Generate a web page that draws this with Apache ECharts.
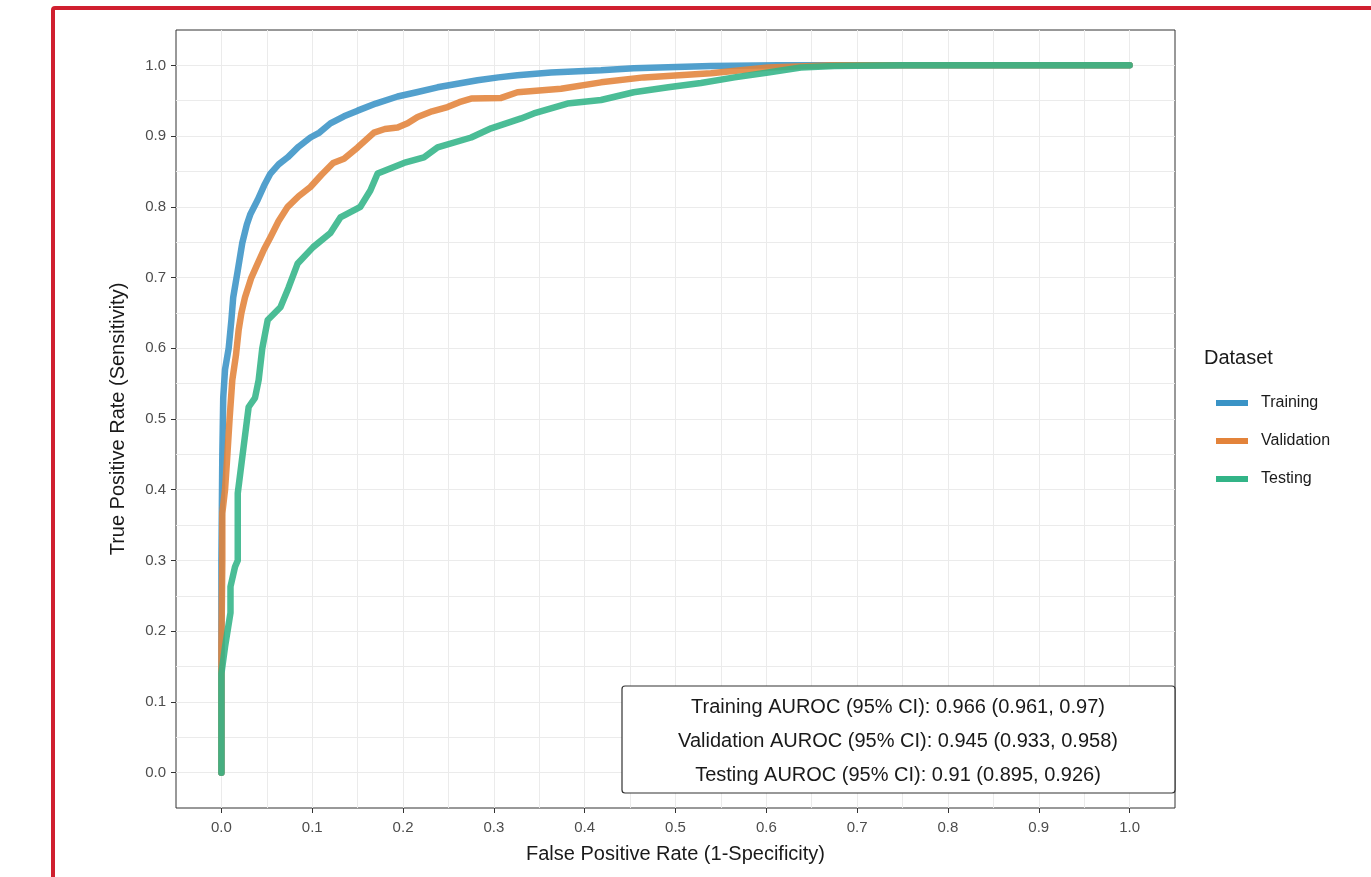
<!DOCTYPE html>
<html>
<head>
<meta charset="utf-8">
<script src="https://cdn.jsdelivr.net/npm/echarts@6/dist/echarts.min.js"></script>
<style>
  html, body { margin: 0; padding: 0; background: #fff; }
  #chart { width: 1371px; height: 877px; }
</style>
</head>
<body>
<div id="chart"></div>
<script>
// ROC points: [false positive rate, true positive rate]
const training = [
  [0, 0], [0, 0.30], [0.001, 0.45], [0.002, 0.53], [0.004, 0.57], [0.008, 0.60], [0.011, 0.64],
  [0.013, 0.672], [0.018, 0.71], [0.023, 0.749], [0.028, 0.775], [0.032, 0.79], [0.04, 0.81],
  [0.047, 0.83], [0.054, 0.847], [0.063, 0.86], [0.073, 0.87], [0.085, 0.885], [0.098, 0.898],
  [0.108, 0.905], [0.12, 0.918], [0.135, 0.928], [0.15, 0.936], [0.17, 0.946], [0.194, 0.956],
  [0.215, 0.962], [0.238, 0.969], [0.26, 0.974], [0.282, 0.979], [0.305, 0.983], [0.326, 0.986],
  [0.363, 0.99], [0.418, 0.993], [0.454, 0.996], [0.539, 0.999], [0.613, 1.0], [1, 1]
]
const validation = [
  [0, 0], [0, 0.14], [0, 0.178], [0.001, 0.30], [0.001, 0.367], [0.004, 0.40], [0.006, 0.438],
  [0.009, 0.50], [0.012, 0.555], [0.016, 0.59], [0.019, 0.626], [0.022, 0.65], [0.026, 0.672],
  [0.033, 0.70], [0.04, 0.72], [0.047, 0.74], [0.054, 0.757], [0.063, 0.78], [0.073, 0.80],
  [0.085, 0.815], [0.098, 0.828], [0.11, 0.845], [0.123, 0.862], [0.135, 0.868], [0.15, 0.884],
  [0.168, 0.905], [0.18, 0.91], [0.194, 0.912], [0.205, 0.918], [0.216, 0.927], [0.232, 0.935],
  [0.249, 0.941], [0.262, 0.948], [0.275, 0.953], [0.308, 0.954], [0.326, 0.962], [0.374, 0.967],
  [0.418, 0.976], [0.465, 0.983], [0.539, 0.989], [0.602, 0.997], [0.675, 1.0], [1, 1]
]
const testing = [
  [0, 0], [0, 0.14], [0.004, 0.178], [0.01, 0.226], [0.01, 0.263], [0.015, 0.291], [0.018, 0.30],
  [0.018, 0.395], [0.023, 0.446], [0.03, 0.517], [0.037, 0.53], [0.041, 0.555], [0.045, 0.60],
  [0.051, 0.64], [0.065, 0.658], [0.074, 0.686], [0.084, 0.72], [0.101, 0.743], [0.12, 0.763],
  [0.131, 0.785], [0.153, 0.80], [0.164, 0.823], [0.172, 0.847], [0.201, 0.862], [0.223, 0.87],
  [0.238, 0.884], [0.275, 0.898], [0.297, 0.911], [0.33, 0.925], [0.344, 0.932], [0.381, 0.946],
  [0.418, 0.951], [0.454, 0.962], [0.492, 0.969], [0.528, 0.975], [0.565, 0.983], [0.602, 0.99],
  [0.638, 0.997], [0.675, 0.999], [0.75, 1.0], [1, 1]
]
const seriesNames = ['Training', 'Validation', 'Testing']
const seriesColors = ['#3a93c6', '#e3833a', '#32b487']
const tickValues = [0, 0.1, 0.2, 0.3, 0.4, 0.5, 0.6, 0.7, 0.8, 0.9, 1.0]
const aurocLines = [
  'Training AUROC (95% CI): 0.966 (0.961, 0.97)',
  'Validation AUROC (95% CI): 0.945 (0.933, 0.958)',
  'Testing AUROC (95% CI): 0.91 (0.895, 0.926)'
]

const font = '"Liberation Sans", Arial, sans-serif'
const chart = echarts.init(document.getElementById('chart'))

// 主坐标轴：只画刻度和标签
const makeAxis = (name, nameGap, margin) => ({
  type: 'value',
  min: -0.05,
  max: 1.05,
  interval: 0.1,
  name: name,
  nameLocation: 'middle',
  nameGap: nameGap,
  nameTextStyle: { fontFamily: font, fontSize: 20, color: '#1a1a1a' },
  axisLine: { show: false, onZero: false },
  axisTick: { show: true, inside: false, length: 5, customValues: tickValues, lineStyle: { color: '#333' } },
  axisLabel: {
    customValues: tickValues,
    formatter: v => v.toFixed(1),
    fontFamily: font, fontSize: 15, color: '#4d4d4d', margin: margin
  },
  splitLine: { show: false }
})

// 网格轴：每 0.05 一条网格线（ggplot 的主次网格）
const gridAxis = {
  type: 'value',
  min: -0.05,
  max: 1.05,
  interval: 0.05,
  axisLine: { show: false, onZero: false },
  axisTick: { show: false },
  axisLabel: { show: false },
  splitLine: { show: true, showMinLine: false, showMaxLine: false, lineStyle: { color: '#ebebeb', width: 1 } }
}

const series = [training, validation, testing].map((d, i) => ({
  name: seriesNames[i],
  type: 'line',
  data: d,
  showSymbol: false,
  symbol: 'none',
  z: 2 + i,
  lineStyle: { color: seriesColors[i], width: 6.5, opacity: 0.88, cap: 'round', join: 'round' },
  itemStyle: { color: seriesColors[i] },
  silent: true,
  animation: false
}))

const option = {
  backgroundColor: '#fff',
  animation: false,
  grid: {
    left: 176, top: 30, right: 196, bottom: 69,
    show: true, borderColor: '#333', borderWidth: 1, backgroundColor: 'transparent'
  },
  title: {
    text: 'Dataset',
    left: 1199, top: 343,
    textStyle: { fontFamily: font, fontSize: 20, fontWeight: 'normal', color: '#1a1a1a' }
  },
  legend: {
    orient: 'vertical',
    left: 1211, top: 390,
    itemWidth: 32, itemHeight: 6, itemGap: 22,
    icon: 'rect',
    data: seriesNames,
    textStyle: { fontFamily: font, fontSize: 16, color: '#1a1a1a', padding: [0, 0, 0, 8] }
  },
  xAxis: [
    makeAxis('False Positive Rate (1-Specificity)', 36, 12),
    Object.assign({ position: 'top' }, gridAxis)
  ],
  yAxis: [
    makeAxis('True Positive Rate (Sensitivity)', 48, 10),
    Object.assign({ position: 'right' }, gridAxis)
  ],
  series: series,
  graphic: [
    // 外面的红色边框
    {
      type: 'rect',
      shape: { x: 53, y: 8, width: 1400, height: 900, r: 2 },
      style: { fill: 'none', stroke: '#d0202f', lineWidth: 4 },
      silent: true
    },
    // AUROC 标注框
    {
      type: 'rect',
      shape: { x: 622, y: 686, width: 553, height: 107, r: 3 },
      style: { fill: '#fff', stroke: '#333', lineWidth: 1.2 },
      z: 10
    },
    ...aurocLines.map((t, i) => ({
      type: 'text',
      x: 898, y: 707 + i * 34,
      style: {
        text: t, fill: '#1a1a1a', fontFamily: font, fontSize: 20,
        align: 'center', verticalAlign: 'middle'
      },
      z: 11
    }))
  ]
}
chart.setOption(option)
</script>
</body>
</html>
